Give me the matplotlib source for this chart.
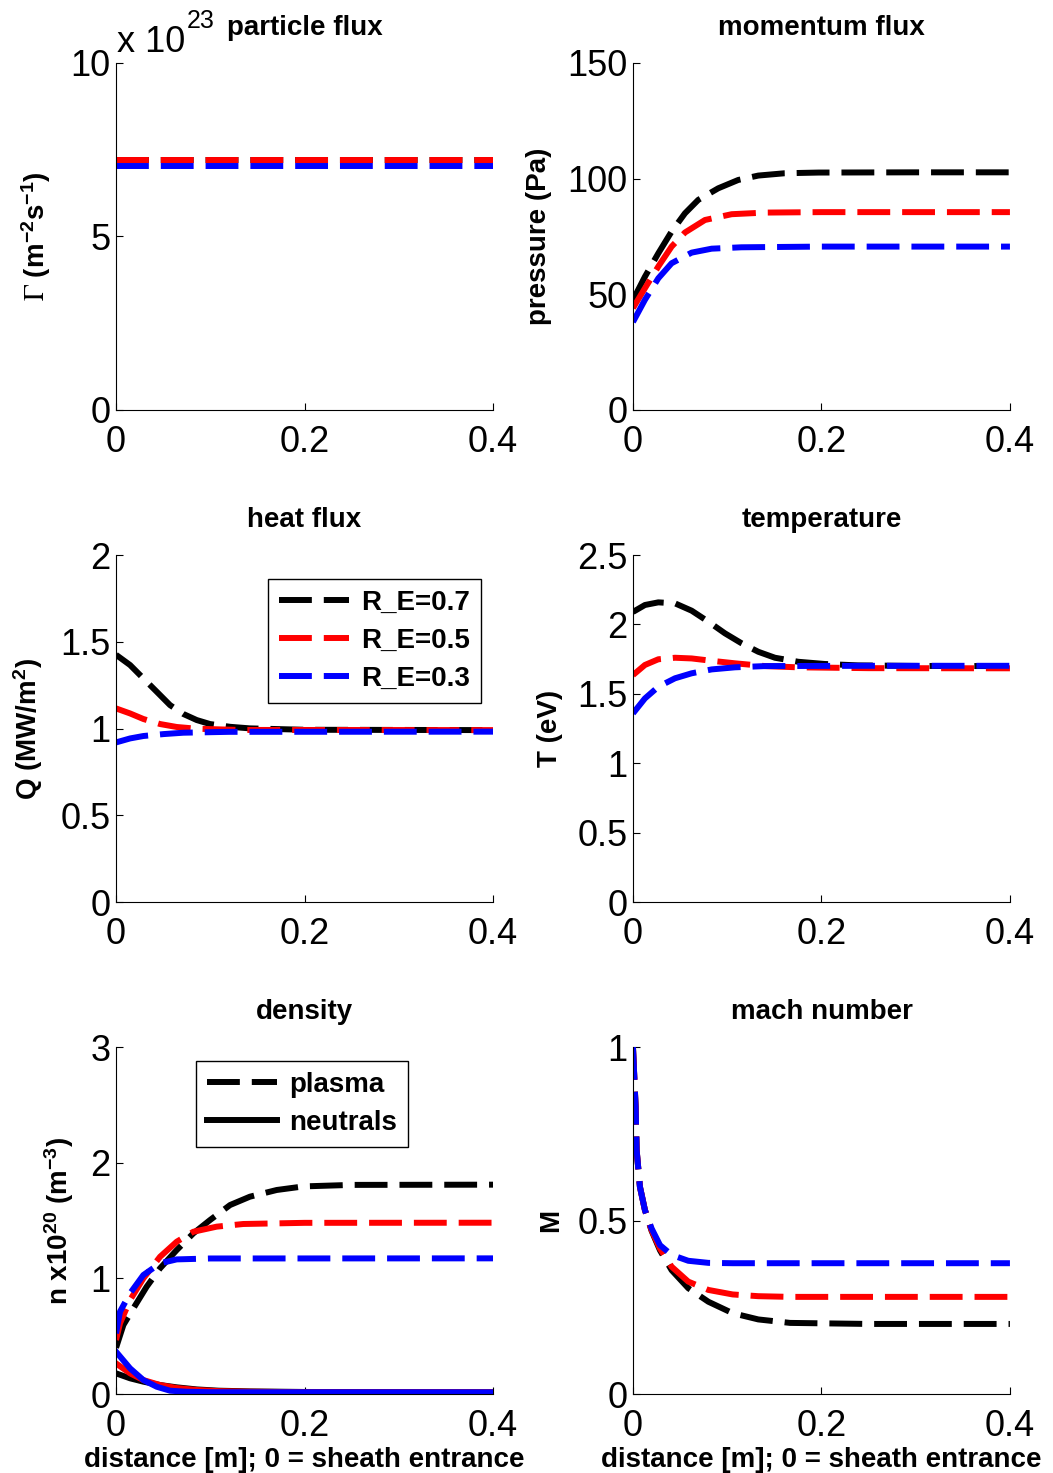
import matplotlib
matplotlib.use('Agg')
import matplotlib.pyplot as plt
from matplotlib.ticker import FuncFormatter

plt.rcParams['font.family'] = ['Liberation Sans', 'DejaVu Sans']
plt.rcParams['mathtext.fontset'] = 'stix'

# cases
cases = ['R_E=0.7', 'R_E=0.5', 'R_E=0.3']
colors = ['k', 'r', 'b']

# particle flux (x 1e23 m^-2 s^-1)
gam_x = [0, 0.4]
gam_07 = [7.2, 7.2]
gam_05 = [7.2, 7.2]
gam_03 = [7.03, 7.03]

# momentum flux (Pa)
mom_x_07 = [0, 0.0127, 0.0269, 0.041, 0.0552, 0.0693, 0.0905, 0.1117, 0.133, 0.161, 0.197, 0.3, 0.4]
mom_07 = [47.5, 57.6, 67.7, 77.1, 85.0, 90.8, 95.8, 99.4, 101.3, 102.3, 102.6, 102.7, 102.7]
mom_x_05 = [0, 0.0127, 0.0269, 0.041, 0.0552, 0.0764, 0.1047, 0.140, 0.2, 0.4]
mom_05 = [44.0, 52.6, 62.0, 70.6, 76.7, 82.1, 84.6, 85.3, 85.5, 85.5]
mom_x_03 = [0, 0.0127, 0.0269, 0.041, 0.0623, 0.0835, 0.115, 0.2, 0.4]
mom_03 = [38.0, 47.6, 56.9, 63.4, 68.0, 69.7, 70.3, 70.6, 70.6]

# heat flux (MW/m^2)
hf_x_07 = [0, 0.0149, 0.029, 0.0432, 0.0573, 0.0714, 0.0856, 0.0997, 0.121, 0.142, 0.2, 0.4]
hf_07 = [1.425, 1.366, 1.289, 1.212, 1.135, 1.084, 1.049, 1.026, 1.010, 1.001, 0.993, 0.991]
hf_x_05 = [0, 0.0149, 0.029, 0.0467, 0.0644, 0.0856, 0.13, 0.4]
hf_05 = [1.116, 1.087, 1.055, 1.026, 1.009, 0.999, 0.992, 0.991]
hf_x_03 = [0, 0.0149, 0.029, 0.0503, 0.0714, 0.12, 0.4]
hf_03 = [0.920, 0.943, 0.957, 0.968, 0.976, 0.981, 0.982]

# temperature (eV)
te_x_07 = [0, 0.0127, 0.0269, 0.0446, 0.0623, 0.080, 0.0976, 0.1153, 0.133, 0.1507, 0.1754, 0.2037, 0.239, 0.3, 0.4]
te_07 = [2.09, 2.140, 2.159, 2.152, 2.099, 2.020, 1.936, 1.864, 1.803, 1.760, 1.731, 1.715, 1.705, 1.701, 1.700]
te_x_05 = [0, 0.0127, 0.0269, 0.0446, 0.0623, 0.0835, 0.1082, 0.140, 0.175, 0.25, 0.4]
te_05 = [1.635, 1.708, 1.749, 1.760, 1.755, 1.738, 1.720, 1.700, 1.691, 1.685, 1.684]
te_x_03 = [0, 0.0127, 0.0269, 0.0446, 0.0623, 0.0835, 0.1082, 0.140, 0.25, 0.4]
te_03 = [1.359, 1.467, 1.551, 1.612, 1.648, 1.676, 1.691, 1.700, 1.702, 1.702]

# plasma density (x 1e20 m^-3)
np_x_07 = [0, 0.0078, 0.0184, 0.0325, 0.0467, 0.0644, 0.082, 0.0997, 0.121, 0.142, 0.1705, 0.199, 0.25, 0.4]
np_07 = [0.40, 0.597, 0.741, 0.928, 1.087, 1.245, 1.389, 1.504, 1.634, 1.706, 1.764, 1.795, 1.808, 1.81]
np_x_05 = [0, 0.0042, 0.0149, 0.029, 0.0467, 0.0644, 0.082, 0.1068, 0.135, 0.2, 0.4]
np_05 = [0.467, 0.611, 0.813, 1.000, 1.187, 1.317, 1.403, 1.447, 1.470, 1.480, 1.481]
np_x_03 = [0, 0.0042, 0.0149, 0.029, 0.0467, 0.0644, 0.1, 0.4]
np_03 = [0.524, 0.712, 0.871, 1.029, 1.130, 1.164, 1.172, 1.173]

# neutral density (x 1e20 m^-3)
nn_x_07 = [0, 0.0149, 0.029, 0.0467, 0.0644, 0.0856, 0.109, 0.142, 0.2, 0.4]
nn_07 = [0.179, 0.136, 0.107, 0.078, 0.058, 0.040, 0.029, 0.023, 0.018, 0.015]
nn_x_05 = [0, 0.0149, 0.029, 0.0467, 0.0644, 0.0856, 0.109, 0.142, 0.2, 0.4]
nn_05 = [0.265, 0.179, 0.121, 0.078, 0.052, 0.035, 0.025, 0.020, 0.016, 0.015]
nn_x_03 = [0, 0.0149, 0.029, 0.0432, 0.0573, 0.075, 0.1, 0.4]
nn_03 = [0.366, 0.222, 0.121, 0.063, 0.029, 0.020, 0.016, 0.015]

# mach number
ma_x = [0, 0.0028, 0.0039, 0.0074, 0.0127, 0.0198, 0.0287, 0.041, 0.0587, 0.080, 0.1058, 0.133, 0.1667, 0.25, 0.4]
ma_07 = [1.0, 0.828, 0.703, 0.597, 0.530, 0.470, 0.414, 0.357, 0.305, 0.266, 0.233, 0.215, 0.205, 0.202, 0.202]
ma_05 = [1.0, 0.828, 0.703, 0.597, 0.530, 0.472, 0.419, 0.367, 0.324, 0.300, 0.287, 0.282, 0.280, 0.280, 0.280]
ma_03 = [1.0, 0.828, 0.703, 0.597, 0.530, 0.477, 0.429, 0.401, 0.384, 0.378, 0.377, 0.377, 0.377, 0.377, 0.377]

LW = 4.3
DASH = (0, (5.5, 2))
fmt = FuncFormatter(lambda v, p: '%g' % v)

fig = plt.figure(figsize=(10.53, 14.73), dpi=100)
lefts = [0.1102, 0.6011]
bottoms = [0.7217, 0.3876, 0.0536]
W, H = 0.358, 0.2356


def make_ax(row, col, ylim, yticks, title, ylabel, ylab_x):
    ax = fig.add_axes([lefts[col], bottoms[row], W, H])
    ax.set_xlim(0, 0.4)
    ax.set_ylim(ylim)
    ax.set_xticks([0, 0.2, 0.4])
    ax.set_yticks(yticks)
    ax.xaxis.set_major_formatter(fmt)
    ax.yaxis.set_major_formatter(fmt)
    for s in ['top', 'right']:
        ax.spines[s].set_visible(False)
    for s in ['left', 'bottom']:
        ax.spines[s].set_linewidth(0.8)
    ax.tick_params(direction='in', length=5, width=0.8, labelsize=26)
    ax.tick_params(axis='x', pad=11)
    ax.tick_params(axis='y', pad=4)
    ax.set_title(title, fontsize=20, fontweight='bold', pad=20)
    ax.set_ylabel(ylabel, fontsize=20, fontweight='bold')
    ax.yaxis.set_label_coords(ylab_x, 0.5)
    if row == 2:
        ax.set_xlabel('distance [m]; 0 = sheath entrance', fontsize=20,
                      fontweight='bold', labelpad=2)
    return ax


leg_kw = dict(loc='upper left', borderaxespad=0, fancybox=False,
              edgecolor='k', framealpha=1, handlelength=2.5,
              handletextpad=0.45, borderpad=0.4, labelspacing=0.43,
              prop={'weight': 'bold', 'size': 20})

# particle flux
ax = make_ax(0, 0, (0, 10), [0, 5, 10], 'particle flux',
             r'$\mathrm{\Gamma}$ (m$\mathregular{^{-2}}$s$\mathregular{^{-1}}$)', -0.167)
for y, c in zip([gam_07, gam_05, gam_03], colors):
    ax.plot(gam_x, y, color=c, lw=LW, ls=DASH)
# MATLAB-style exponent above the y axis
ax.text(0.003, 1.032, 'x 10', transform=ax.transAxes,
        fontsize=26, va='baseline', ha='left')
ax.text(0.188, 1.101, '23', transform=ax.transAxes,
        fontsize=18, va='baseline', ha='left')

# momentum flux
ax = make_ax(0, 1, (0, 150), [0, 50, 100, 150], 'momentum flux',
             'pressure (Pa)', -0.215)
for xs, y, c in zip([mom_x_07, mom_x_05, mom_x_03], [mom_07, mom_05, mom_03], colors):
    ax.plot(xs, y, color=c, lw=LW, ls=DASH)

# heat flux
ax = make_ax(1, 0, (0, 2), [0, 0.5, 1, 1.5, 2], 'heat flux',
             r'Q (MW/m$\mathregular{^2}$)', -0.188)
hl = []
for xs, y, c, lab in zip([hf_x_07, hf_x_05, hf_x_03], [hf_07, hf_05, hf_03], colors, cases):
    l, = ax.plot(xs, y, color=c, lw=LW, ls=DASH, label=lab)
    hl.append(l)
lg = ax.legend(handles=hl, bbox_to_anchor=(0.403, 0.931), **leg_kw)
lg.get_frame().set_linewidth(1.0)

# temperature
ax = make_ax(1, 1, (0, 2.5), [0, 0.5, 1, 1.5, 2, 2.5], 'temperature',
             'T (eV)', -0.186)
for xs, y, c in zip([te_x_07, te_x_05, te_x_03], [te_07, te_05, te_03], colors):
    ax.plot(xs, y, color=c, lw=LW, ls=DASH)

# density
ax = make_ax(2, 0, (0, 3), [0, 1, 2, 3], 'density',
             r'n x10$\mathregular{^{20}}$ (m$\mathregular{^{-3}}$)', -0.105)
hp = []
hn = []
for xs, y, c in zip([np_x_07, np_x_05, np_x_03], [np_07, np_05, np_03], colors):
    l, = ax.plot(xs, y, color=c, lw=LW, ls=DASH)
    hp.append(l)
for xs, y, c in zip([nn_x_07, nn_x_05, nn_x_03], [nn_07, nn_05, nn_03], colors):
    l, = ax.plot(xs, y, color=c, lw=LW, ls='-')
    hn.append(l)
lg = ax.legend([hp[0], hn[0]], ['plasma', 'neutrals'],
               bbox_to_anchor=(0.212, 0.960), **leg_kw)
lg.get_frame().set_linewidth(1.0)

# mach number
ax = make_ax(2, 1, (0, 1), [0, 0.5, 1], 'mach number', 'M', -0.183)
for y, c in zip([ma_07, ma_05, ma_03], colors):
    ax.plot(ma_x, y, color=c, lw=LW, ls=DASH)

fig.savefig('out.png', dpi=100)
